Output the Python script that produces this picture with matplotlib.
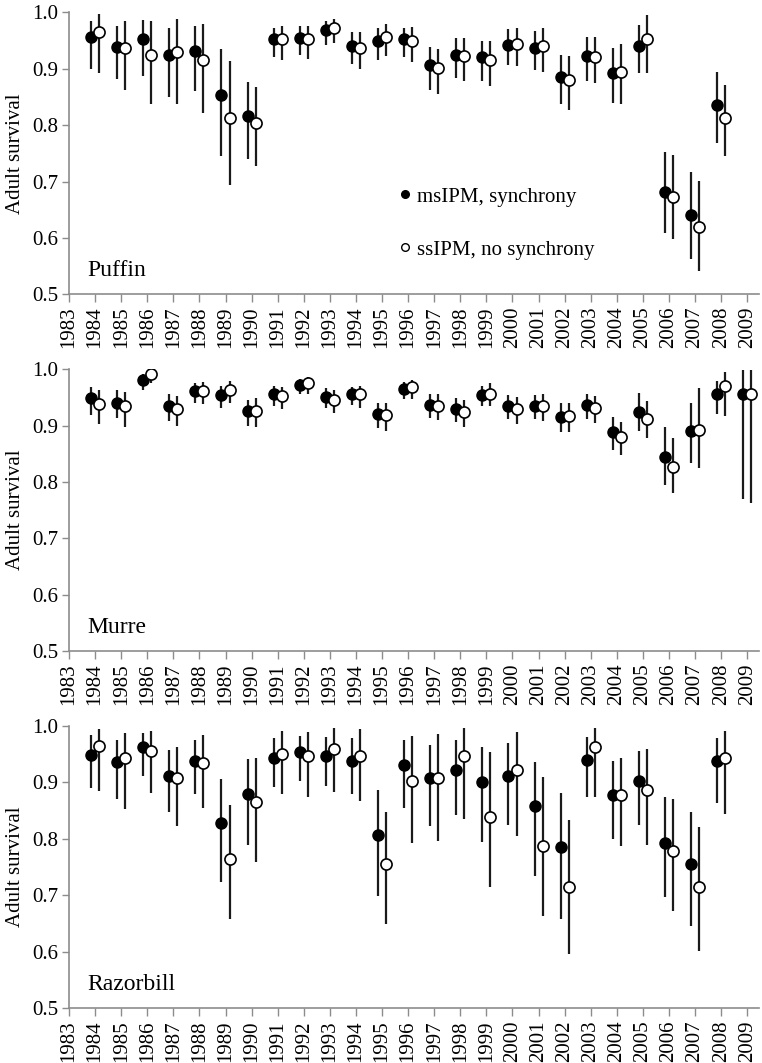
import matplotlib
matplotlib.use('Agg')
import matplotlib.pyplot as plt
from matplotlib.lines import Line2D
import numpy as np

plt.rcParams['font.family'] = ['Liberation Serif', 'DejaVu Serif']

years = np.arange(1984, 2010)

# Puffin (msIPM filled, ssIPM open): mean, lower, upper
puffin_ms = [0.956, 0.939, 0.953, 0.924, 0.932, 0.854, 0.816, 0.952, 0.955, 0.969, 0.941, 0.950, 0.952,
             0.907, 0.924, 0.920, 0.942, 0.937, 0.885, 0.923, 0.892, 0.940, 0.682, 0.641, 0.835, np.nan]
puffin_ms_lo = [0.899, 0.881, 0.888, 0.850, 0.860, 0.746, 0.740, 0.920, 0.925, 0.942, 0.908, 0.915, 0.920,
                0.863, 0.884, 0.878, 0.907, 0.898, 0.837, 0.879, 0.839, 0.892, 0.608, 0.562, 0.769, np.nan]
puffin_ms_hi = [0.985, 0.975, 0.986, 0.972, 0.976, 0.935, 0.876, 0.973, 0.976, 0.985, 0.965, 0.972, 0.973,
                0.939, 0.955, 0.950, 0.970, 0.967, 0.924, 0.957, 0.936, 0.977, 0.752, 0.717, 0.895, np.nan]
puffin_ss = [0.965, 0.937, 0.924, 0.929, 0.916, 0.813, 0.804, 0.952, 0.952, 0.973, 0.937, 0.957, 0.950,
             0.901, 0.923, 0.915, 0.944, 0.940, 0.880, 0.920, 0.895, 0.953, 0.673, 0.620, 0.812, np.nan]
puffin_ss_lo = [0.892, 0.862, 0.838, 0.837, 0.821, 0.693, 0.727, 0.915, 0.917, 0.945, 0.899, 0.923, 0.912,
                0.856, 0.879, 0.869, 0.904, 0.895, 0.826, 0.874, 0.838, 0.892, 0.599, 0.542, 0.745, np.nan]
puffin_ss_hi = [0.997, 0.985, 0.984, 0.989, 0.980, 0.914, 0.868, 0.976, 0.976, 0.989, 0.965, 0.979, 0.974,
                0.935, 0.955, 0.950, 0.972, 0.973, 0.923, 0.956, 0.944, 0.995, 0.747, 0.701, 0.872, np.nan]

# Murre
murre_ms = [0.949, 0.941, 0.981, 0.935, 0.961, 0.954, 0.926, 0.956, 0.972, 0.951, 0.956, 0.921, 0.965,
            0.937, 0.930, 0.954, 0.935, 0.935, 0.916, 0.937, 0.888, 0.925, 0.844, 0.890, 0.956, 0.956]
murre_ms_lo = [0.918, 0.913, 0.964, 0.909, 0.941, 0.931, 0.899, 0.935, 0.956, 0.931, 0.937, 0.896, 0.947,
               0.914, 0.907, 0.935, 0.912, 0.912, 0.889, 0.912, 0.857, 0.891, 0.795, 0.833, 0.921, 0.769]
murre_ms_hi = [0.969, 0.964, 0.991, 0.956, 0.976, 0.971, 0.946, 0.970, 0.982, 0.966, 0.969, 0.941, 0.978,
               0.956, 0.949, 0.970, 0.954, 0.954, 0.940, 0.956, 0.915, 0.958, 0.897, 0.941, 0.980, 0.999]
murre_ss = [0.938, 0.934, 0.991, 0.930, 0.961, 0.963, 0.926, 0.953, 0.975, 0.946, 0.956, 0.918, 0.968,
            0.935, 0.924, 0.957, 0.930, 0.935, 0.917, 0.932, 0.879, 0.912, 0.827, 0.892, 0.970, 0.956]
murre_ss_lo = [0.903, 0.898, 0.976, 0.899, 0.938, 0.941, 0.897, 0.929, 0.956, 0.923, 0.932, 0.891, 0.947,
               0.910, 0.897, 0.935, 0.903, 0.909, 0.888, 0.905, 0.848, 0.878, 0.780, 0.824, 0.917, 0.763]
murre_ss_hi = [0.963, 0.960, 0.997, 0.953, 0.978, 0.979, 0.949, 0.969, 0.987, 0.963, 0.970, 0.940, 0.981,
               0.956, 0.946, 0.975, 0.950, 0.956, 0.941, 0.953, 0.906, 0.944, 0.878, 0.966, 0.995, 0.999]

# Razorbill
razor_ms = [0.949, 0.936, 0.962, 0.912, 0.938, 0.828, 0.879, 0.944, 0.953, 0.947, 0.938, 0.806, 0.931,
            0.908, 0.922, 0.900, 0.912, 0.858, 0.785, 0.939, 0.878, 0.903, 0.792, 0.756, 0.937, np.nan]
razor_ms_lo = [0.890, 0.870, 0.912, 0.847, 0.880, 0.723, 0.790, 0.891, 0.903, 0.894, 0.879, 0.699, 0.854,
               0.823, 0.842, 0.794, 0.825, 0.734, 0.658, 0.874, 0.799, 0.825, 0.697, 0.645, 0.863, np.nan]
razor_ms_hi = [0.984, 0.975, 0.987, 0.957, 0.975, 0.906, 0.941, 0.978, 0.983, 0.981, 0.978, 0.887, 0.975,
               0.966, 0.975, 0.962, 0.969, 0.936, 0.882, 0.980, 0.937, 0.956, 0.874, 0.848, 0.979, np.nan]
razor_ss = [0.965, 0.944, 0.955, 0.907, 0.934, 0.764, 0.866, 0.950, 0.947, 0.959, 0.947, 0.756, 0.903,
            0.908, 0.947, 0.838, 0.922, 0.788, 0.714, 0.962, 0.878, 0.887, 0.779, 0.715, 0.944, np.nan]
razor_ss_lo = [0.884, 0.853, 0.881, 0.823, 0.854, 0.658, 0.759, 0.879, 0.874, 0.883, 0.867, 0.649, 0.793,
               0.796, 0.836, 0.715, 0.805, 0.663, 0.596, 0.875, 0.788, 0.789, 0.673, 0.601, 0.844, np.nan]
razor_ss_hi = [0.995, 0.987, 0.991, 0.962, 0.984, 0.860, 0.944, 0.991, 0.990, 0.997, 0.995, 0.848, 0.982,
               0.985, 0.996, 0.953, 0.990, 0.910, 0.834, 0.997, 0.943, 0.959, 0.870, 0.821, 0.991, np.nan]

species = ['Puffin', 'Murre', 'Razorbill']
series = [
    (puffin_ms, puffin_ms_lo, puffin_ms_hi, puffin_ss, puffin_ss_lo, puffin_ss_hi),
    (murre_ms, murre_ms_lo, murre_ms_hi, murre_ss, murre_ss_lo, murre_ss_hi),
    (razor_ms, razor_ms_lo, razor_ms_hi, razor_ss, razor_ss_lo, razor_ss_hi),
]
legend_labels = ['msIPM, synchrony', 'ssIPM, no synchrony']

fig = plt.figure(figsize=(7.62, 10.63), dpi=100)
axes_pos = [[0.0906, 0.7231, 0.9054, 0.2653],
            [0.0906, 0.3876, 0.9054, 0.2650],
            [0.0906, 0.0515, 0.9054, 0.2656]]

grey = '#8c8c8c'
off = 0.155

def draw_panel(ax, name, ms, ms_lo, ms_hi, ss, ss_lo, ss_hi):
    ms, ms_lo, ms_hi = np.array(ms), np.array(ms_lo), np.array(ms_hi)
    ss, ss_lo, ss_hi = np.array(ss), np.array(ss_lo), np.array(ss_hi)
    ax.vlines(years - off, ms_lo, ms_hi, color='#1a1a1a', lw=1.6, zorder=2)
    ax.vlines(years + off, ss_lo, ss_hi, color='#1a1a1a', lw=1.6, zorder=2)
    ax.plot(years - off, ms, 'o', ms=8, mfc='black', mec='black', mew=1, ls='none', zorder=3)
    ax.plot(years + off, ss, 'o', ms=8, mfc='white', mec='black', mew=1.2, ls='none', zorder=3)

    ax.set_xlim(1983, 2009.45)
    ax.set_ylim(0.5, 1.0)
    ax.set_xticks(np.arange(1983, 2010))
    ax.set_xticklabels([str(y) for y in range(1983, 2010)], rotation=90)
    ax.set_yticks(np.arange(0.5, 1.01, 0.1))
    ax.set_yticklabels(['%.1f' % v for v in np.arange(0.5, 1.01, 0.1)])
    ax.tick_params(axis='both', labelsize=15, color=grey, direction='out')
    ax.tick_params(axis='x', length=6, width=1, pad=3)
    ax.tick_params(axis='y', length=5, width=1, pad=3)
    for s in ['top', 'right']:
        ax.spines[s].set_visible(False)
    for s in ['left', 'bottom']:
        ax.spines[s].set_color(grey)
        ax.spines[s].set_linewidth(1.2)
    ax.set_ylabel('Adult survival', fontsize=15, labelpad=5)
    ax.text(0.027, 0.065, name, transform=ax.transAxes, fontsize=17, ha='left', va='baseline')

for i, name in enumerate(species):
    ax = fig.add_axes(axes_pos[i])
    draw_panel(ax, name, *series[i])
    if i == 0:
        handles = [Line2D([], [], marker='o', ls='none', ms=5.5, mfc='black', mec='black'),
                   Line2D([], [], marker='o', ls='none', ms=5.5, mfc='white', mec='black', mew=1)]
        ax.legend(handles, legend_labels, loc='center left', bbox_to_anchor=(0.48, 0.252),
                  frameon=False, fontsize=15, handlelength=0.5, handletextpad=0.3,
                  labelspacing=1.6, borderpad=0, borderaxespad=0)

fig.savefig('out.png', dpi=100)
